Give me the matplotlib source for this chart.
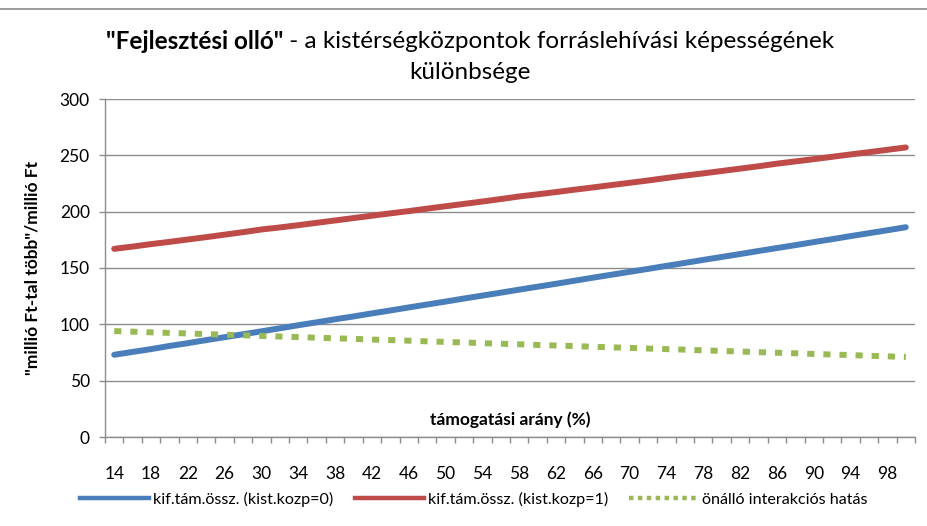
import matplotlib
matplotlib.use("Agg")
import matplotlib.pyplot as plt
from matplotlib.lines import Line2D

categories = [14, 16, 18, 20, 22, 24, 26, 28, 30, 32, 34, 36, 38, 40, 42, 44,
              46, 48, 50, 52, 54, 56, 58, 60, 62, 64, 66, 68, 70, 72, 74, 76,
              78, 80, 82, 84, 86, 88, 90, 92, 94, 96, 98, 100]

kozp0 = [73.0, 75.5, 78.0, 80.8, 83.3, 86.0, 88.6, 91.2, 93.8, 96.5, 99.2,
         101.8, 104.5, 107.0, 109.7, 112.3, 115.0, 117.6, 120.2, 122.9, 125.5,
         128.1, 130.8, 133.4, 136.0, 138.7, 141.4, 144.0, 146.6, 149.2, 151.9,
         154.5, 157.2, 159.8, 162.4, 165.1, 167.7, 170.3, 173.0, 175.6, 178.3,
         180.9, 183.5, 186.2]

kozp1 = [167.0, 169.0, 171.2, 173.2, 175.3, 177.4, 179.6, 181.8, 184.2, 186.0,
         188.0, 190.1, 192.2, 194.3, 196.4, 198.5, 200.5, 202.7, 204.8, 206.9,
         209.0, 211.2, 213.5, 215.4, 217.4, 219.5, 221.5, 223.6, 225.6, 227.7,
         229.9, 232.0, 234.0, 236.1, 238.2, 240.3, 242.6, 244.6, 246.6, 248.7,
         250.8, 252.8, 254.9, 257.0]

interakcio = [94.0, 93.5, 92.9, 92.4, 91.9, 91.3, 90.8, 90.3, 89.7, 89.2, 88.7,
              88.1, 87.6, 87.1, 86.5, 86.0, 85.5, 84.9, 84.4, 83.9, 83.3, 82.8,
              82.3, 81.7, 81.2, 80.7, 80.1, 79.6, 79.1, 78.5, 78.0, 77.5, 76.9,
              76.4, 75.9, 75.3, 74.8, 74.3, 73.7, 73.2, 72.7, 72.1, 71.6, 71.0]

labels = ["kif.tám.össz. (kist.kozp=0)", "kif.tám.össz. (kist.kozp=1)",
          "önálló interakciós hatás"]
yticks = [0, 50, 100, 150, 200, 250, 300]

FONT = "Lato"
plt.rcParams["font.family"] = [FONT, "DejaVu Sans"]

W, H = 928, 526
fig = plt.figure(figsize=(W / 100, H / 100), dpi=100)
ax = fig.add_axes([105 / W, 1 - 437 / H, 810 / W, 338 / H])

x = list(range(len(categories)))
blue, red, green = "#4A7EBB", "#BE4B48", "#98B954"
ax.plot(x, kozp0, color=blue, lw=4.3, solid_capstyle="round", label=labels[0])
ax.plot(x, kozp1, color=red, lw=4.3, solid_capstyle="round", label=labels[1])
ax.plot(x, interakcio, color=green, lw=4.3, dashes=(1.2, 1.5),
        dash_capstyle="butt", label=labels[2])

ax.set_xlim(-0.5, len(categories) - 0.5)
ax.set_ylim(0, 300)
ax.set_yticks(yticks)
ax.set_yticklabels([str(v) for v in yticks], fontsize=12.5)
ax.yaxis.grid(True, color="#8c8c8c", lw=1.0)
ax.set_axisbelow(True)

ax.set_xticks([i - 0.5 for i in range(len(categories) + 1)])
ax.set_xticklabels([])
ax.set_xticks(x[::2], minor=True)
ax.set_xticklabels([str(c) for c in categories[::2]], minor=True, fontsize=12.5)
ax.tick_params(axis="x", which="major", length=4, width=1, color="#8c8c8c", direction="out")
ax.tick_params(axis="x", which="minor", length=0, pad=21)
ax.tick_params(axis="y", length=4, width=1, color="#8c8c8c", pad=7)

for s in ["top", "right"]:
    ax.spines[s].set_visible(False)
for s in ["left", "bottom"]:
    ax.spines[s].set_color("#8c8c8c")
    ax.spines[s].set_linewidth(1.0)

ax.set_ylabel('"millió Ft-tal több"/millió Ft', fontsize=12.5, fontweight="bold", labelpad=14)
ax.text(0.5, 0.05, "támogatási arány (%)", transform=ax.transAxes,
        ha="center", va="center", fontsize=12.5, fontweight="bold")

# Title with mixed weights
fig.canvas.draw()
r = fig.canvas.get_renderer()
TS = 17.5
t1 = fig.text(0, 1 - 41 / H, '"Fejlesztési olló"', fontsize=TS, fontweight="bold",
              va="center", ha="left")
t2 = fig.text(0, 1 - 41 / H, " - a kistérségközpontok forráslehívási képességének",
              fontsize=TS, va="center", ha="left")
w1 = t1.get_window_extent(r).width
w2 = t2.get_window_extent(r).width
start = 470 - (w1 + w2) / 2
t1.set_x(start / W)
t2.set_x((start + w1) / W)
fig.text(470 / W, 1 - 72 / H, "különbsége", fontsize=TS, ha="center", va="center")

handles = [Line2D([], [], color=blue, lw=3.2),
           Line2D([], [], color=red, lw=3.2),
           Line2D([], [], color=green, lw=3.2, dashes=(1, 1))]
fig.legend(handles, labels, loc="center", bbox_to_anchor=(474 / W, 1 - 499 / H),
           ncol=3, frameon=False, fontsize=11.6, handlelength=4.3,
           columnspacing=1.3, handletextpad=0.25)

fig.add_artist(Line2D([0, 1], [1 - 9 / H, 1 - 9 / H], color="#8c8c8c", lw=1.2,
                      transform=fig.transFigure))

fig.savefig("out.png", dpi=100)
